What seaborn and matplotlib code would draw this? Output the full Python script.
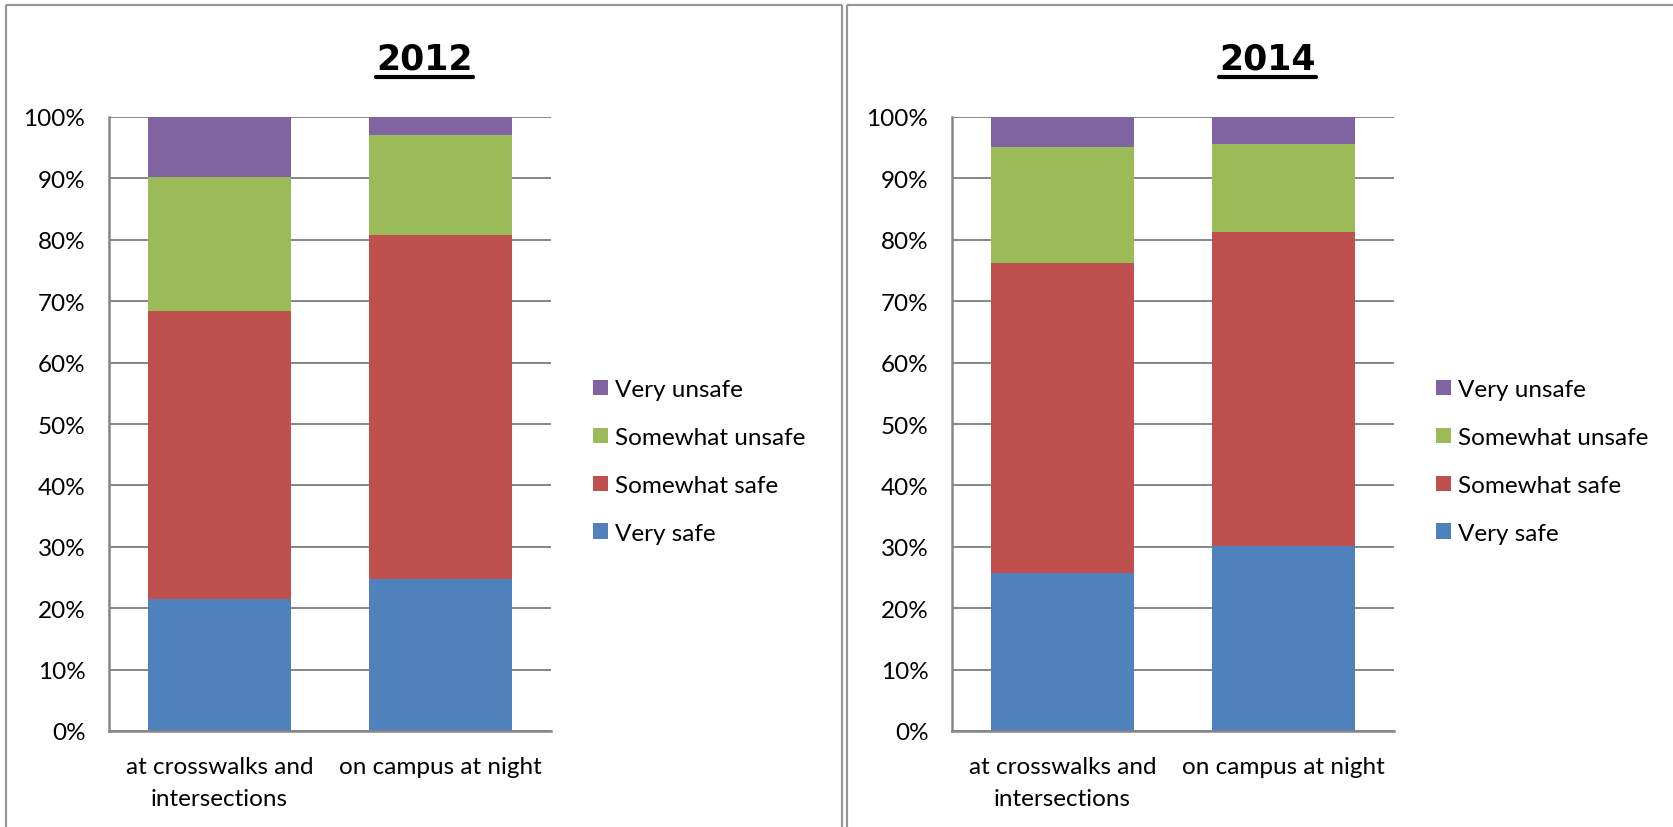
import seaborn as sns
import pandas as pd
import numpy as np
import matplotlib.pyplot as plt
from matplotlib.lines import Line2D
from matplotlib.patches import Patch

# data (percent of answers)
places = ['at crosswalks and\nintersections', 'on campus at night']
levels = ['Very safe', 'Somewhat safe', 'Somewhat unsafe', 'Very unsafe']
colors = ['#4F81BD', '#C0504D', '#9BBB59', '#8064A2']
years = ['2012', '2014']

very_safe_2012 = [21.5, 24.8]
somewhat_safe_2012 = [46.9, 56.0]
somewhat_unsafe_2012 = [21.9, 16.3]
very_unsafe_2012 = [9.7, 2.9]

very_safe_2014 = [25.7, 30.1]
somewhat_safe_2014 = [50.6, 51.1]
somewhat_unsafe_2014 = [18.8, 14.4]
very_unsafe_2014 = [4.9, 4.4]

values = {
    '2012': [very_safe_2012, somewhat_safe_2012, somewhat_unsafe_2012, very_unsafe_2012],
    '2014': [very_safe_2014, somewhat_safe_2014, somewhat_unsafe_2014, very_unsafe_2014],
}

rows = []
for y in years:
    for l, lev in enumerate(levels):
        for p, place in enumerate(places):
            rows.append({'year': y, 'level': lev, 'place': place, 'pct': values[y][l][p]})
df = pd.DataFrame(rows)
df['cum'] = df.groupby(['year', 'place'])['pct'].cumsum()

sns.set_style('white')
plt.rcParams['font.family'] = ['Lato', 'DejaVu Sans']
plt.rcParams['text.color'] = 'black'

W, H = 1674, 828
fig = plt.figure(figsize=(W / 100, H / 100), dpi=100)
grey = '#868686'

for k, y in enumerate(years):
    off = 843 * k
    ax = fig.add_axes([(109 + off) / W, 1 - 732 / H, 442 / W, 614 / H])
    sub = df[df.year == y]
    # draw cumulative bars from the top segment down so they stack
    for lev, c in reversed(list(zip(levels, colors))):
        d = sub[sub.level == lev]
        sns.barplot(data=d, x='place', y='cum', order=places, color=c, saturation=1,
                    width=0.65, errorbar=None, edgecolor='none', linewidth=0, ax=ax)
    ax.set_ylim(0, 100)
    ax.set_xlim(-0.5, 1.5)
    ax.set_yticks(np.arange(0, 101, 10))
    ax.set_yticklabels([f'{t}%' for t in range(0, 101, 10)])
    ax.set_xlabel('')
    ax.set_ylabel('')
    ax.set_axisbelow(True)
    ax.yaxis.grid(True, color=grey, linewidth=1.4)
    for s in ['top', 'right']:
        ax.spines[s].set_visible(False)
    for s in ['left', 'bottom']:
        ax.spines[s].set_color(grey)
        ax.spines[s].set_linewidth(1.8)
    ax.tick_params(axis='y', length=0, pad=17, labelsize=17.5, labelcolor='black')
    ax.tick_params(axis='x', length=0, pad=18, labelsize=17.5, labelcolor='black')
    for t in ax.get_xticklabels():
        t.set_linespacing(1.65)

    handles = [Patch(facecolor=c, edgecolor='none') for c in colors][::-1]
    ax.legend(handles, levels[::-1], loc='center left', bbox_to_anchor=(1.095, 0.439),
              frameon=False, fontsize=17.5, handlelength=0.6, handleheight=0.6,
              handletextpad=0.3, labelspacing=1.1, borderpad=0, borderaxespad=0)

    # title, bold and underlined
    fig.text((424.5 + off) / W, 1 - 69 / H, y, ha='center', va='baseline', color='black',
             fontsize=25, fontweight='bold', family='DejaVu Sans')

# underline the titles
fig.canvas.draw()
rend = fig.canvas.get_renderer()
for t in fig.texts:
    bb = t.get_window_extent(rend)
    fig.add_artist(Line2D([bb.x0 / W, bb.x1 / W], [(H - 78) / H, (H - 78) / H],
                          color='black', linewidth=3, transform=fig.transFigure))

# panel borders
bc = '#969696'
def fline(xs, ys):
    fig.add_artist(Line2D([x / W for x in xs], [1 - v / H for v in ys],
                          color=bc, linewidth=1.6, transform=fig.transFigure,
                          solid_capstyle='butt'))

fline([6, 842], [6, 6])
fline([6, 6], [6, H])
fline([842, 842], [6, H])
fline([847, W], [6, 6])
fline([847, 847], [6, H])

fig.savefig('out.png', dpi=100, facecolor='white')
